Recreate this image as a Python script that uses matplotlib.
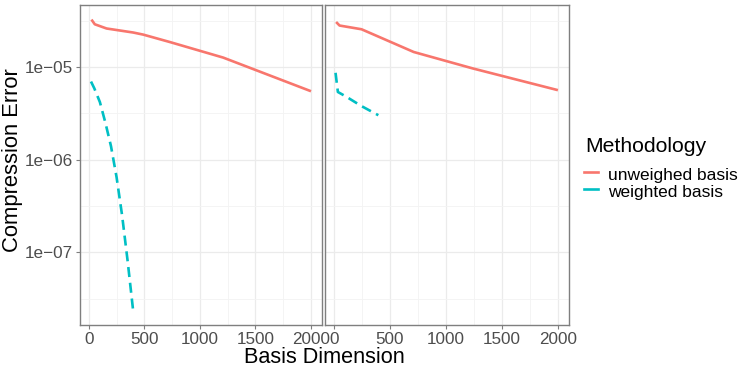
import numpy as np
import matplotlib.pyplot as plt
from matplotlib.lines import Line2D

plt.rcParams['font.family'] = ['Liberation Sans', 'DejaVu Sans']

# left panel
dims_unw_a = [24, 54, 160, 400, 490, 730, 1210, 2000]
err_unw_a = [3.27e-5, 2.91e-5, 2.62e-5, 2.37e-5, 2.25e-5, 1.87e-5, 1.27e-5, 5.5e-6]
dims_w_a = [20, 50, 100, 150, 200, 250, 300, 350, 400]
err_w_a = [7.0e-6, 5.9e-6, 4.2e-6, 2.5e-6, 1.4e-6, 6.5e-7, 2.5e-7, 8.0e-8, 2.3e-8]

# right panel
dims_unw_b = [20, 51, 247, 713, 1240, 2000]
err_unw_b = [3.08e-5, 2.82e-5, 2.57e-5, 1.46e-5, 9.7e-6, 5.65e-6]
dims_w_b = [15, 36, 111, 247, 397]
err_w_b = [8.7e-6, 5.4e-6, 4.8e-6, 3.8e-6, 3.03e-6]

labels = ['unweighed basis', 'weighted basis']
colors = ['#F8766D', '#00BFC4']

W, H = 747, 374
fig = plt.figure(figsize=(W/100, H/100), dpi=100)
ax1 = fig.add_axes([80/W, 1-325/H, 242/W, 320/H])
ax2 = fig.add_axes([325/W, 1-325/H, 244/W, 320/H], sharey=ax1)

panels = [(ax1, dims_unw_a, err_unw_a, dims_w_a, err_w_a),
          (ax2, dims_unw_b, err_unw_b, dims_w_b, err_w_b)]

for ax, xu, yu, xw, yw in panels:
    ax.set_yscale('log')
    ax.plot(xu, yu, color=colors[0], lw=1.9, solid_capstyle='butt', zorder=3)
    ax.plot(xw, yw, color=colors[1], lw=1.9, dashes=(3.8, 2.2), zorder=3)
    ax.set_xlim(-79, 2099)
    ax.set_ylim(1.64e-8, 4.7e-5)
    ax.set_xticks([0, 500, 1000, 1500, 2000])
    ax.set_xticks([250, 750, 1250, 1750], minor=True)
    ax.set_yticks([1e-7, 1e-6, 1e-5])
    ax.set_yticks([10**-7.5, 10**-6.5, 10**-5.5, 10**-4.5], minor=True)
    ax.set_yticklabels(['1e\u221207', '1e\u221206', '1e\u221205'])
    ax.grid(which='major', color='#EBEBEB', lw=0.9)
    ax.grid(which='minor', color='#F3F3F3', lw=0.6)
    ax.set_axisbelow(True)
    for s in ax.spines.values():
        s.set_color('#7F7F7F')
        s.set_linewidth(1.0)
    ax.tick_params(which='major', length=3, color='#7F7F7F', labelsize=12.3,
                   labelcolor='#4D4D4D', pad=2)
    ax.tick_params(which='minor', length=0)

ax2.tick_params(axis='y', which='both', left=False, labelleft=False)

fig.text(13/W, 1 - 160/H, 'Compression Error', fontsize=15.8, rotation=90,
         ha='center', va='center')
fig.text((80 + 569) / 2 / W, 1 - 363/H, 'Basis Dimension', fontsize=15.6,
         ha='center', va='baseline')

# legend, drawn by hand to follow the ggplot guide layout
fig.text(585/W, 1 - 152/H, 'Methodology', fontsize=15.2, va='baseline')
for i, (lab, c) in enumerate(zip(labels, colors)):
    ky = 172.5 + 16.7 * i
    fig.add_artist(Line2D([584/W, 598/W], [1 - ky/H, 1 - ky/H],
                          color=c, lw=1.9, transform=fig.transFigure))
    fig.text(608.5/W, 1 - (ky + 7.5)/H, lab, fontsize=12.5, va='baseline')

fig.savefig('out.png', dpi=100)
